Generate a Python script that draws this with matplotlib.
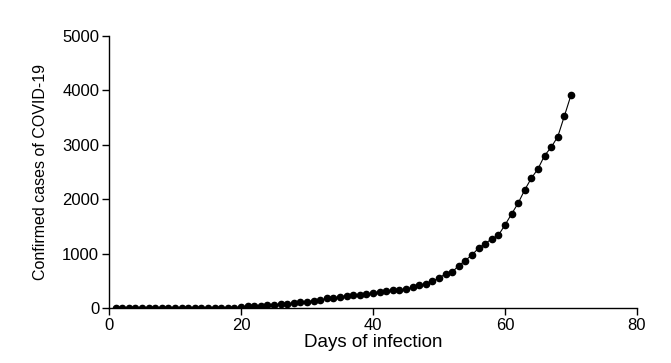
import matplotlib
matplotlib.use("Agg")
import matplotlib.pyplot as plt

days = list(range(1, 71))
cases = [0]*19 + [10,
         43, 43, 45, 55, 61, 67, 80, 86, 104, 116,
         134, 140, 177, 183, 208, 220, 232, 238, 256, 275,
         299, 311, 324, 330, 348, 378, 415, 445, 494, 550,
         629, 659, 781, 873, 977, 1099, 1184, 1270, 1337, 1526,
         1728, 1929, 2173, 2387, 2558, 2802, 2955, 3150, 3529, 3913]

x_ticks = [0, 20, 40, 60, 80]
y_ticks = [0, 1000, 2000, 3000, 4000, 5000]

plt.rcParams['font.family'] = ['Liberation Sans', 'DejaVu Sans']

fig = plt.figure(figsize=(6.71, 3.63), dpi=100)
ax = fig.add_axes([0.1624, 0.1515, 0.7869, 0.7493])
ax.plot(days, cases, color='black', linewidth=0.8, marker='o', markersize=4.5,
        markerfacecolor='black', markeredgecolor='black')
ax.set_xlim(0, 80)
ax.set_ylim(0, 5000)
ax.set_xticks(x_ticks)
ax.set_yticks(y_ticks)
for s in ['top', 'right']:
    ax.spines[s].set_visible(False)
for s in ['left', 'bottom']:
    ax.spines[s].set_linewidth(1.0)
ax.tick_params(direction='out', length=5, width=1, labelsize=12, pad=2)
ax.set_xlabel("Days of infection", fontsize=13.5, labelpad=1)
ax.set_ylabel("Confirmed cases of COVID-19", fontsize=11.5, labelpad=10)
fig.savefig("out.png", dpi=100)
